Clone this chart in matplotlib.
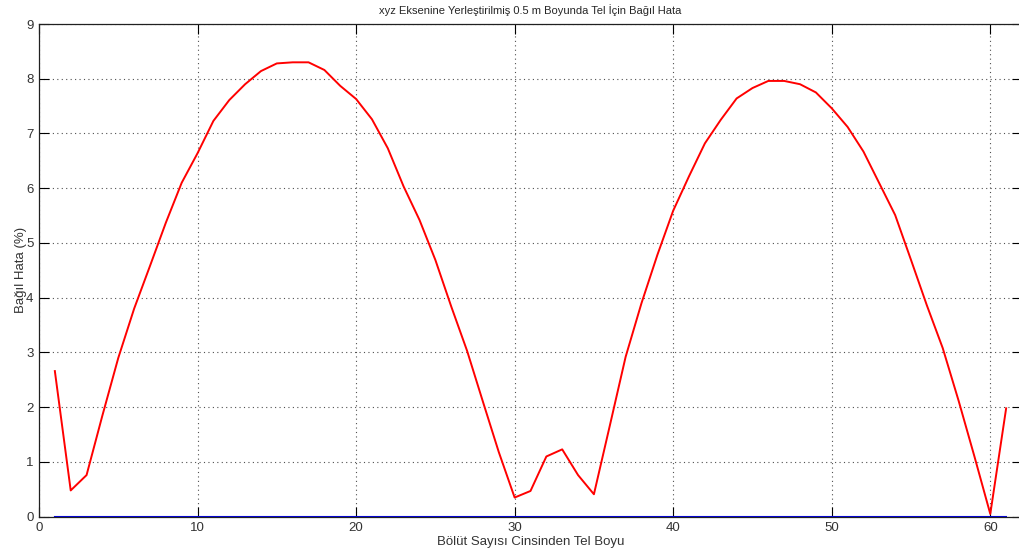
import numpy as np
import matplotlib
matplotlib.use("Agg")
from matplotlib import pyplot as plt

plt.rcParams['font.family'] = ['Liberation Sans', 'DejaVu Sans']

# segment index along the wire
segments = np.arange(1, 62)

# relative error (%) for each segment count
rel_error = [2.66, 0.48, 0.76, 1.85, 2.90, 3.80, 4.58, 5.37, 6.10, 6.64,
             7.23, 7.61, 7.90, 8.14, 8.28, 8.30, 8.30, 8.16, 7.87, 7.63,
             7.26, 6.73, 6.03, 5.42, 4.69, 3.84, 3.03, 2.10, 1.18, 0.35,
             0.47, 1.10, 1.23, 0.76, 0.41, 1.66, 2.92, 3.90, 4.78, 5.59,
             6.22, 6.82, 7.25, 7.64, 7.83, 7.96, 7.96, 7.90, 7.75, 7.46,
             7.12, 6.67, 6.09, 5.51, 4.69, 3.86, 3.08, 2.12, 1.10, 0.05,
             1.98]

# reference (zero error) line
ref_error = np.zeros(len(segments))

fig = plt.figure(figsize=(10.19, 5.55), dpi=100)
ax = fig.add_axes([39/1019, 38.3/555, (1022-39)/1019, (516.7-24)/555])

ax.plot(segments, rel_error, color='red', lw=1.4)
ax.plot(segments, ref_error, color='#0000e6', lw=1.5)

ax.set_xlim(0, 62)
ax.set_ylim(0, 9)
ax.set_xticks(np.arange(0, 61, 10))
ax.set_yticks(np.arange(0, 10, 1))

ax.grid(True, linestyle=(0, (1, 3)), color='#505050', lw=0.8)
ax.tick_params(direction='in', length=7, width=0.8, top=True, right=True,
               labelsize=9.5, labelcolor='#333333', pad=4)
for s in ax.spines.values():
    s.set_linewidth(0.9)
    s.set_color('#202020')

ax.set_title('xyz Eksenine Yerleştirilmiş 0.5 m Boyunda Tel İçin Bağıl Hata',
             fontsize=8, color='#262626', pad=7)
ax.set_xlabel('Bölüt Sayısı Cinsinden Tel Boyu', fontsize=9.5, color='#333333', labelpad=1)
ax.set_ylabel('Bağıl Hata (%)', fontsize=9.5, color='#333333', labelpad=-1)

fig.savefig('out.png', dpi=100)
